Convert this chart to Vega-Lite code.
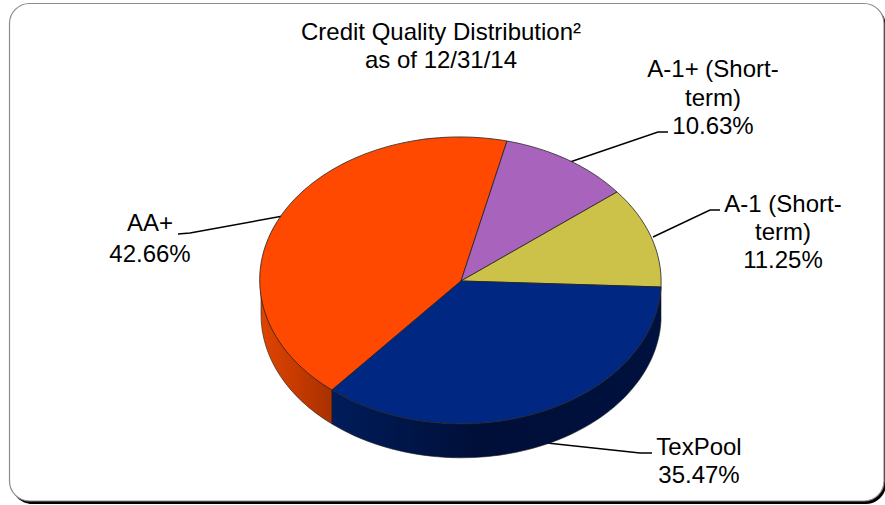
{
"$schema":"https://vega.github.io/schema/vega-lite/v6.json",
"width":848,"height":448,
"padding":{"left":37,"top":57,"right":0,"bottom":0},
"autosize":{"type":"none"},
"background":"white",
"view":{"stroke":null},
"title":{"text":["Credit Quality Distribution²","as of 12/31/14"],"font":"Liberation Sans","fontSize":24,"fontWeight":"normal","color":"#000","lineHeight":28,"anchor":"middle","dx":-20,"dy":72,"offset":0},
"datasets":{"slices":[
{"slice":"AA+","value":42.66,"lines":["AA+","42.66%"]},
{"slice":"A-1+ (Short-term)","value":10.63,"lines":["A-1+ (Short-","term)","10.63%"]},
{"slice":"A-1 (Short-term)","value":11.25,"lines":["A-1 (Short-","term)","11.25%"]},
{"slice":"TexPool","value":35.47,"lines":["TexPool","35.47%"]}
]},
"data":{"name":"slices"},
"resolve":{"scale":{"shape":"independent"}},
"layer":[
{"transform":[{"filter":"datum.slice==='AA+'"}],"mark":{"type":"point","filled":true,"size":4,"opacity":1,"color":"#000","shape":"M-429,-275 L405,-275 A20,20 0 0 1 425,-255 L425,203 A20,20 0 0 1 405,223 L-429,223 A20,20 0 0 1 -449,203 L-449,-255 A20,20 0 0 1 -429,-275 Z"},"encoding":{}},
{"transform":[{"filter":"datum.slice==='AA+'"}],"mark":{"type":"point","filled":true,"size":4,"opacity":1,"fill":"#fff","stroke":"#8c8c8c","strokeWidth":1.2,"shape":"M-431.5,-277.5 L403,-277.5 A20,20 0 0 1 423,-257.5 L423,200 A20,20 0 0 1 403,220 L-431.5,220 A20,20 0 0 1 -451.5,200 L-451.5,-257.5 A20,20 0 0 1 -431.5,-277.5 Z"},"encoding":{}},
{"mark":{"type":"point","filled":false,"size":4,"opacity":1,"fill":"transparent","stroke":"#000","strokeWidth":1.4},
 "encoding":{"shape":{"field":"slice","type":"nominal","legend":null,"scale":{"domain":["AA+","A-1+ (Short-term)","A-1 (Short-term)","TexPool"],"range":["M-283,-47 L-271,-48 L-178,-65","M207,-149 L197,-149 L109,-119","M259,-71 L249,-71 L192,-44","M191,172 L179,172 L86,162"]}}}},
{"transform":[{"filter":"datum.slice==='AA+'"}],"mark":{"type":"point","filled":true,"size":4,"opacity":1,"stroke":"#222","strokeWidth":0.6,"fill":{"gradient":"linear","x1":0,"x2":1,"y1":0,"y2":0,"stops":[{"offset":0,"color":"#E04400"},{"offset":0.5,"color":"#C63A00"},{"offset":1,"color":"#A83000"}]},"shape":"M-200,0 A200,143 0 0 0 -129,109 L-129,143 A200,143 0 0 1 -200,34 Z"},"encoding":{}},
{"transform":[{"filter":"datum.slice==='TexPool'"}],"mark":{"type":"point","filled":true,"size":4,"opacity":1,"stroke":"#222","strokeWidth":0.6,"fill":{"gradient":"linear","x1":0,"x2":1,"y1":0,"y2":0,"stops":[{"offset":0,"color":"#001C5A"},{"offset":0.45,"color":"#000F38"},{"offset":1,"color":"#00113F"}]},"shape":"M-129,109 A200,143 0 0 0 200,6 L200,40 A200,143 0 0 1 -129,143 Z"},"encoding":{}},
{"mark":{"type":"point","filled":true,"size":4,"opacity":1,"stroke":"#222","strokeWidth":0.8},
 "encoding":{
  "shape":{"field":"slice","type":"nominal","legend":null,"scale":{"domain":["AA+","A-1+ (Short-term)","A-1 (Short-term)","TexPool"],"range":["M0,0 L-129,109 A200,143 0 0 1 46,-140 Z","M0,0 L46,-140 A200,143 0 0 1 156,-89 Z","M0,0 L156,-89 A200,143 0 0 1 200,6 Z","M0,0 L200,6 A200,143 0 0 1 -129,109 Z"]}},
  "fill":{"field":"slice","type":"nominal","legend":null,"scale":{"domain":["AA+","A-1+ (Short-term)","A-1 (Short-term)","TexPool"],"range":["#FF4800","#A864BC","#CCC24A","#002882"]}},
  "tooltip":[{"field":"slice","type":"nominal"},{"field":"value","type":"quantitative"}]}},
{"transform":[{"filter":"datum.slice==='AA+'"}],"mark":{"type":"text","font":"Liberation Sans","fontSize":24,"color":"#000","align":"center","baseline":"alphabetic","lineHeight":31,"dx":-311,"dy":-50},"encoding":{"text":{"field":"lines"}}},
{"transform":[{"filter":"datum.slice==='A-1+ (Short-term)'"}],"mark":{"type":"text","font":"Liberation Sans","fontSize":24,"color":"#000","align":"center","baseline":"alphabetic","lineHeight":28.5,"dx":252,"dy":-204},"encoding":{"text":{"field":"lines"}}},
{"transform":[{"filter":"datum.slice==='A-1 (Short-term)'"}],"mark":{"type":"text","font":"Liberation Sans","fontSize":24,"color":"#000","align":"center","baseline":"alphabetic","lineHeight":28,"dx":322,"dy":-69},"encoding":{"text":{"field":"lines"}}},
{"transform":[{"filter":"datum.slice==='TexPool'"}],"mark":{"type":"text","font":"Liberation Sans","fontSize":24,"color":"#000","align":"center","baseline":"alphabetic","lineHeight":28,"dx":238,"dy":174},"encoding":{"text":{"field":"lines"}}}
]
}
